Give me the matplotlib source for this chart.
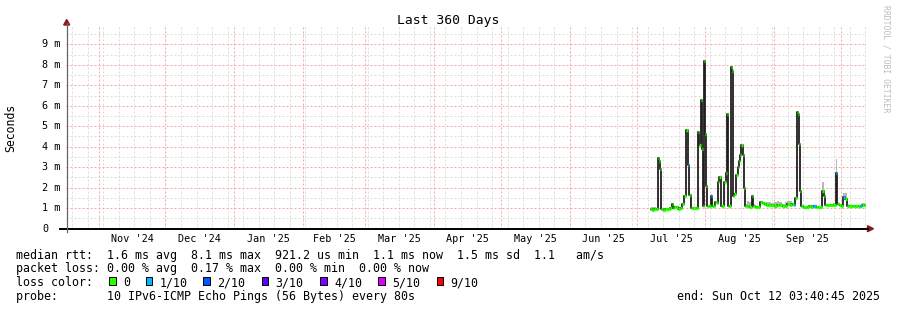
import datetime as dt

import matplotlib
matplotlib.use("Agg")
import matplotlib.dates as mdates
import matplotlib.pyplot as plt
import matplotlib.transforms as mtransforms
import numpy as np
from matplotlib.lines import Line2D
from matplotlib.patches import Polygon, Rectangle

# ---- data ----
end_time = dt.datetime(2025, 10, 12, 3, 40, 45)
start_time = end_time - dt.timedelta(days=360)
data_origin = dt.datetime(2025, 7, 1)

# days after 1 Jul 2025
day_offset = [
    6.6, 7.5, 8.4, 9.3, 9.8, 10.2, 10.6, 11.0, 11.4, 12.5, 13.5, 14.5, 15.5, 16.1,
    16.6, 17.3, 18.1, 19.0, 20.0, 20.8, 21.9, 22.9, 23.2, 23.8, 24.3, 24.9, 26.0,
    27.2, 28.0, 28.5, 29.2, 29.6, 29.9, 30.5, 31.0, 31.4, 32.1, 33.0, 33.9, 34.3,
    35.0, 35.7, 36.3, 37.0, 37.5, 38.2, 38.9, 39.7, 40.5, 41.0, 41.5, 42.0, 42.6,
    43.0, 43.6, 44.4, 45.2, 45.7, 46.2, 46.9, 47.5, 48.1, 48.6, 49.2, 50.2, 51.2,
    52.3, 52.8, 53.8, 55.0, 56.1, 56.8, 57.6, 58.7, 60.0, 61.3, 62.5, 63.6, 64.8,
    66.0, 67.2, 68.4, 69.5, 70.5, 71.2, 71.7, 72.4, 72.9, 73.3, 73.7, 74.4, 75.8,
    77.2, 78.3, 79.0, 80.1, 81.2, 82.5, 84.0, 84.7, 85.2, 86.5, 87.8, 89.0, 90.1,
    90.5, 91.4, 92.3, 93.5, 94.2, 95.0, 96.3, 97.8, 99.0, 100.2, 101.0, 101.9, 103.0,
]
# median rtt in ms
median_ms = [
    0.95, 0.92, 0.95, 0.95, 3.45, 3.30, 2.90, 1.80, 0.95, 0.92, 0.95, 0.97, 1.00, 1.20,
    1.00, 1.05, 1.05, 0.98, 1.00, 1.20, 1.60, 4.80, 3.10, 1.65, 1.65, 1.00, 1.00,
    1.00, 4.70, 4.10, 6.30, 3.90, 1.10, 8.20, 4.60, 2.10, 1.10, 1.10, 1.60, 1.10,
    1.10, 1.30, 1.25, 2.30, 2.50, 1.10, 1.10, 2.30, 2.70, 5.60, 1.10, 1.10, 7.90,
    7.70, 1.60, 1.70, 2.60, 3.00, 3.30, 3.60, 4.10, 3.60, 2.00, 1.10, 1.10, 1.05,
    1.60, 1.10, 1.05, 1.05, 1.30, 1.25, 1.20, 1.15, 1.15, 1.15, 1.13, 1.15, 1.15,
    1.10, 1.10, 1.20, 1.15, 1.20, 1.15, 1.50, 5.70, 5.60, 4.15, 1.85, 1.10, 1.05,
    1.05, 1.10, 1.05, 1.10, 1.05, 1.05, 1.85, 1.60, 1.15, 1.15, 1.15, 1.15, 2.70,
    1.20, 1.15, 1.10, 1.55, 1.45, 1.10, 1.10, 1.10, 1.10, 1.10, 1.10, 1.15, 1.15,
]
# highest ping (top of the smoke) in ms
smoke_max_ms = [
    1.05, 1.05, 1.05, 1.00, 3.50, 3.35, 2.95, 2.60, 1.00, 0.98, 1.00, 1.02, 1.05, 1.25,
    1.05, 1.10, 1.10, 1.05, 1.05, 1.25, 1.65, 4.85, 3.15, 1.70, 1.70, 1.05, 1.05,
    1.05, 4.75, 4.15, 6.35, 3.95, 1.15, 8.25, 4.65, 2.15, 1.15, 1.15, 1.70, 1.15,
    1.15, 1.35, 1.30, 2.35, 2.55, 1.15, 1.15, 2.35, 2.75, 5.65, 1.15, 1.15, 7.95,
    7.75, 1.65, 1.75, 2.65, 3.05, 3.35, 3.65, 4.15, 3.65, 2.05, 1.20, 1.35, 1.30,
    1.65, 1.20, 1.10, 1.10, 1.35, 1.30, 1.30, 1.30, 1.30, 1.25, 1.30, 1.35, 1.30,
    1.20, 1.30, 1.35, 1.35, 1.25, 1.20, 1.55, 5.75, 5.65, 4.20, 1.90, 1.15, 1.10,
    1.10, 1.15, 1.10, 1.15, 1.10, 1.10, 2.30, 1.70, 1.20, 1.20, 1.20, 1.25, 3.40,
    1.30, 1.20, 1.15, 1.75, 1.75, 1.20, 1.15, 1.15, 1.15, 1.15, 1.15, 1.25, 1.25,
]
# packet loss in tenths (0 = none, 1 = 1/10)
loss_tenths = [
    0, 0, 0, 0, 0, 0, 0, 0, 0, 0, 0, 0, 0, 0,
    0, 0, 0, 0, 0, 0, 0, 0, 1, 0, 0, 0, 0,
    0, 0, 0, 0, 0, 0, 0, 0, 0, 0, 0, 1, 0,
    0, 0, 0, 0, 0, 0, 0, 0, 0, 0, 0, 0, 0,
    0, 0, 0, 0, 0, 0, 0, 0, 0, 0, 0, 0, 0,
    0, 0, 0, 0, 0, 0, 0, 0, 0, 0, 0, 0, 0,
    0, 0, 0, 0, 0, 1, 0, 0, 0, 0, 0, 0, 0,
    0, 0, 0, 1, 0, 0, 0, 0, 0, 0, 0, 0, 1,
    0, 0, 0, 1, 0, 0, 0, 0, 0, 0, 1, 0, 0,
]

loss_labels = ["0", "1/10", "2/10", "3/10", "4/10", "5/10", "9/10"]
loss_colors = ["#26ff00", "#00b8ff", "#0059ff", "#5e00ff", "#7e00ff", "#dd00ff", "#ff0000"]

y_ticks = [0, 1, 2, 3, 4, 5, 6, 7, 8, 9]
y_tick_labels = ["0", "1 m", "2 m", "3 m", "4 m", "5 m", "6 m", "7 m", "8 m", "9 m"]

legend_rows = [
    "median rtt:  1.6 ms avg  8.1 ms max  921.2 us min  1.1 ms now  1.5 ms sd  1.1   am/s",
    "packet loss: 0.00 % avg  0.17 % max  0.00 % min  0.00 % now",
    "loss color:",
    "probe:       10 IPv6-ICMP Echo Pings (56 Bytes) every 80s",
]
end_label = "end: Sun Oct 12 03:40:45 2025"

# ---- figure ----
W, H = 897, 310
MONO = "DejaVu Sans Mono"
plt.rcParams["font.family"] = MONO
plt.rcParams["lines.scale_dashes"] = False


def fx(px):
    return px / W


def fy(py):
    return 1 - py / H


fig = plt.figure(figsize=(W / 100, H / 100), dpi=100)
fig.patch.set_facecolor("white")

x0, x1, y_zero, y_top = 65.8, 865.8, 228.7, 25.0
ax = fig.add_axes([fx(x0), fy(y_zero), (x1 - x0) / W, (y_zero - y_top) / H])
ax.set_facecolor("white")
ax.set_xlim(mdates.date2num(start_time), mdates.date2num(end_time))
ax.set_ylim(0, (y_zero - y_top) / 20.49)
for s in ax.spines.values():
    s.set_visible(False)
ax.set_xticks([])
ax.set_yticks([])

# dotted grid (2 px on, 2 px off)
dot = (0, (1.44, 1.44))
grid_kw = dict(lw=0.72, ls=dot)

# minor grid: weekly (Sundays) and every 0.5 ms
sunday = dt.datetime(2024, 10, 20)
while sunday < end_time:
    ax.axvline(mdates.date2num(sunday), color="#dcdcdc", zorder=0, **grid_kw)
    sunday += dt.timedelta(days=7)
for v in np.arange(0.5, 10, 1.0):
    ax.axhline(v, color="#dcdcdc", zorder=0, **grid_kw)

# major grid: month starts and every 1 ms
month_starts = []
m_year, m_month = 2024, 11
while dt.datetime(m_year, m_month, 1) <= end_time:
    month_starts.append(dt.datetime(m_year, m_month, 1))
    m_month += 1
    if m_month > 12:
        m_year, m_month = m_year + 1, 1
for ms in month_starts:
    ax.axvline(mdates.date2num(ms), color="#f5a8a8", zorder=1, **grid_kw)
for v in y_ticks[1:]:
    ax.axhline(v, color="#f5a8a8", zorder=1, **grid_kw)

# ---- data ----
t = mdates.date2num([data_origin + dt.timedelta(days=d) for d in day_offset])
med = np.array(median_ms)
mid = (t[:-1] + t[1:]) / 2
left = np.concatenate([[t[0] - (mid[0] - t[0])], mid])
right = np.concatenate([mid, [t[-1] + (t[-1] - mid[-1])]])

ax.fill_between(t, med, smoke_max_ms, step="mid", color="#b8b8b8", lw=0, zorder=2)
ax.plot(t, med, drawstyle="steps-mid", color="#202020", lw=1.3, zorder=3)
ax.hlines(med, left, right, colors=[loss_colors[l] for l in loss_tenths],
          lw=2.4, zorder=4)

# ---- axes lines and arrows ----
fig.add_artist(Line2D([fx(60), fx(868)], [fy(y_zero), fy(y_zero)],
                      color="black", lw=1.4, transform=fig.transFigure))
fig.add_artist(Line2D([fx(66.7), fx(66.7)], [fy(232), fy(23)],
                      color="#666666", lw=0.9, transform=fig.transFigure))
arrow_col = "#8b1a1a"
fig.add_artist(Polygon([(fx(63.7), fy(25)), (fx(69.7), fy(25)), (fx(66.7), fy(19.5))],
                       closed=True, color=arrow_col, transform=fig.transFigure))
fig.add_artist(Polygon([(fx(867.5), fy(y_zero - 3)), (fx(867.5), fy(y_zero + 3)),
                        (fx(873.5), fy(y_zero))],
                       closed=True, color=arrow_col, transform=fig.transFigure))

# ---- tick labels ----
ytrans = mtransforms.blended_transform_factory(fig.transFigure, ax.transData)
ytrans = ytrans + mtransforms.ScaledTranslation(0, -3 / 100, fig.dpi_scale_trans)
for v, lab in zip(y_ticks, y_tick_labels):
    ax.text(fx(42), v, lab, transform=ytrans, ha="left", va="baseline",
            fontsize=7.3, family=MONO, clip_on=False)

xtrans = mtransforms.blended_transform_factory(ax.transData, fig.transFigure)
for a, b in zip(month_starts[:-1], month_starts[1:]):
    centre = (mdates.date2num(a) + mdates.date2num(b)) / 2
    ax.text(centre, fy(241.5), a.strftime("%b '%y"), transform=xtrans,
            ha="center", va="baseline", fontsize=7.3, family=MONO, clip_on=False)

# ---- titles and legend ----
fig.text(fx(448), fy(24), "Last 360 Days", ha="center", va="baseline",
         fontsize=9.4, family=MONO)
fig.text(fx(11), fy(127.5), "Seconds", rotation=90, ha="center", va="center",
         fontsize=8.3, family=MONO)
fig.text(fx(886), fy(58.5), "RRDTOOL / TOBI OETIKER", rotation=270, ha="center",
         va="center", fontsize=5.9, family=MONO, color="#bdbdbd")

row_base = [258.5, 272, 286, 300]
for yb, line in zip(row_base, legend_rows):
    fig.text(fx(16), fy(yb), line, ha="left", va="baseline", fontsize=8.37, family=MONO)
fig.text(fx(880), fy(300), end_label, ha="right", va="baseline", fontsize=8.37,
         family=MONO)

box_x = [109, 145.7, 203.3, 261.7, 320, 378.3, 436.7]
for bx, lab, col in zip(box_x, loss_labels, loss_colors):
    fig.add_artist(Rectangle((fx(bx), fy(285)), 6.5 / W, 8 / H, facecolor=col,
                             edgecolor="black", lw=0.7, transform=fig.transFigure))
    fig.text(fx(bx + 14), fy(286), lab, ha="left", va="baseline", fontsize=8.37,
             family=MONO)

fig.savefig("out.png", dpi=100, facecolor="white")
